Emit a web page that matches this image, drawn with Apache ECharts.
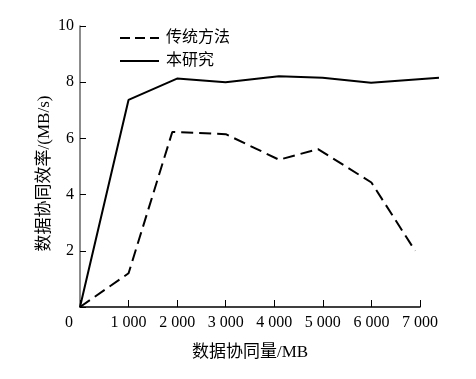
<!DOCTYPE html>
<html>
<head>
<meta charset="utf-8">
<script src="https://cdn.jsdelivr.net/npm/echarts@6/dist/echarts.min.js"></script>
<style>
html,body{margin:0;padding:0;background:#fff;}
#chart{width:476px;height:379px;}
</style>
</head>
<body>
<div id="chart"></div>
<script>
var seriesNames = ['传统方法', '本研究'];
var xTraditional = [0, 1000, 1900, 3000, 4100, 4900, 6000, 6900];
var yTraditional = [0, 1.2, 6.23, 6.15, 5.24, 5.62, 4.43, 2.0];
var xOurs = [0, 1000, 2000, 3000, 4100, 5000, 6000, 7400];
var yOurs = [0, 7.37, 8.13, 8.0, 8.21, 8.16, 7.98, 8.16];
var xTickLabels = {0: '0', 1000: '1 000', 2000: '2 000', 3000: '3 000', 4000: '4 000', 5000: '5 000', 6000: '6 000', 7000: '7 000'};
var xAxisName = '数据协同量/MB';
var yAxisName = '数据协同效率/(MB/s)';

function pairs(xs, ys) { return xs.map(function (x, i) { return [x, ys[i]]; }); }

var FONT = '"Liberation Serif", "Noto Sans CJK SC", serif';
// visible axis spans 0..7000 over 340px; the hidden overlay axis spans 0..7400 at the same scale
var X_VISIBLE_MAX = 7000, X_OVERLAY_MAX = 7400;
var PX_PER_UNIT = 340 / X_VISIBLE_MAX;
var overlayRight = 56 - Math.round((X_OVERLAY_MAX - X_VISIBLE_MAX) * PX_PER_UNIT);

var chart = echarts.init(document.getElementById('chart'), null, {renderer: 'canvas'});
chart.setOption({
  animation: false,
  backgroundColor: '#fff',
  textStyle: {fontFamily: FONT, color: '#000'},
  grid: [
    {left: 80, right: 56, top: 26, bottom: 72},
    {left: 80, right: overlayRight, top: 26, bottom: 72}
  ],
  legend: {
    orient: 'vertical', left: 114, top: 25, itemWidth: 39, itemHeight: 14, itemGap: 7,
    textStyle: {fontFamily: FONT, fontSize: 16, color: '#000', padding: [0, 0, 0, 2]},
    itemStyle: {opacity: 0},
    data: [
      {name: seriesNames[0], lineStyle: {type: [10, 5], width: 2, color: '#000'}},
      {name: seriesNames[1], lineStyle: {type: 'solid', width: 2, color: '#000'}}
    ]
  },
  xAxis: [{
    gridIndex: 0, type: 'value', min: 0, max: X_VISIBLE_MAX, interval: 1000,
    name: xAxisName, nameLocation: 'middle', nameGap: 37,
    nameTextStyle: {fontFamily: FONT, fontSize: 17, color: '#000'},
    axisLine: {show: true, onZero: false, lineStyle: {color: '#000', width: 1.5}},
    axisTick: {show: true, inside: true, length: 7, lineStyle: {color: '#000', width: 1}},
    splitLine: {show: false},
    axisLabel: {
      margin: 8, fontSize: 16, color: '#000', fontFamily: FONT,
      formatter: function (v) { return v === 0 ? '{z|0}' : xTickLabels[v]; },
      rich: {z: {fontSize: 16, fontFamily: FONT, color: '#000', padding: [0, 22, 0, 0]}}
    }
  }, {
    gridIndex: 1, type: 'value', min: 0, max: X_OVERLAY_MAX, show: false
  }],
  yAxis: [{
    gridIndex: 0, type: 'value', min: 0, max: 10, interval: 2,
    name: yAxisName, nameLocation: 'middle', nameGap: 27, nameRotate: 90,
    nameMoveOverlap: false,
    nameTextStyle: {fontFamily: FONT, fontSize: 17, color: '#000', padding: [0, 14, 0, 0]},
    axisLine: {show: true, onZero: false, lineStyle: {color: '#666', width: 1.5}},
    axisTick: {show: true, inside: true, length: 6, lineStyle: {color: '#000', width: 1}},
    splitLine: {show: false},
    axisLabel: {
      margin: 6, fontSize: 16, color: '#000', fontFamily: FONT,
      formatter: function (v) { return v === 0 ? '' : String(v); }
    }
  }, {
    gridIndex: 1, type: 'value', min: 0, max: 10, show: false
  }],
  series: [
    {
      name: seriesNames[0], type: 'line', data: pairs(xTraditional, yTraditional),
      xAxisIndex: 0, yAxisIndex: 0,
      symbol: 'none',
      lineStyle: {color: '#000', width: 2, type: [12, 6]},
      itemStyle: {color: '#000'}
    },
    {
      name: seriesNames[1], type: 'line', data: pairs(xOurs, yOurs),
      xAxisIndex: 1, yAxisIndex: 1,
      symbol: 'none',
      lineStyle: {color: '#000', width: 2, type: 'solid'},
      itemStyle: {color: '#000'}
    }
  ]
});
</script>
</body>
</html>
